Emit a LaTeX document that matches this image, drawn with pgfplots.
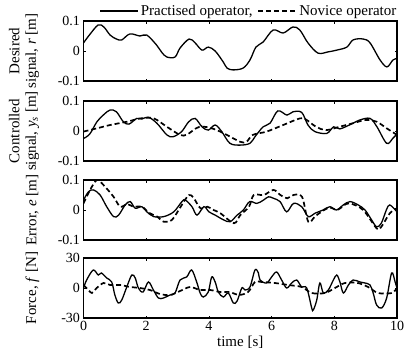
\documentclass[border=0pt]{standalone}
\usepackage{pgfplots}
\pgfplotsset{compat=1.18}
\usepackage{fontspec}
\setmainfont{Liberation Serif}

\newcommand{\lblfont}{\fontsize{15bp}{16.5bp}\selectfont}
\newcommand{\tickfont}{\fontsize{14bp}{16bp}\selectfont}

\pgfplotsset{
  panel/.style={
    scale only axis,
    width=313.5bp, height=60bp,
    anchor=north west,
    xmin=0, xmax=10,
    xtick={0,2,4,6,8,10},
    xticklabels=\empty,
    axis line style={line width=1.2pt},
    tick style={black, line width=0.6pt},
    major tick length=2.5bp,
    tick align=inside,
    ticklabel style={font=\tickfont},
    /pgf/number format/assume math mode=true,
    ylabel style={font=\lblfont, align=center, anchor=center},
    yticklabel style={xshift=0bp},
    clip=true,
  },
  prac/.style={black, line width=1.3pt, smooth, tension=0.55, mark=none},
  nov/.style={black, line width=1.7pt, dash pattern=on 5bp off 3bp, smooth, tension=0.55, mark=none},
}

\begin{document}
\begin{tikzpicture}
\useasboundingbox (0bp,0bp) rectangle (406bp,-352bp);

% desired signal r
\begin{axis}[panel, at={(83.5bp,-21bp)},
  ymin=-0.1, ymax=0.1, ytick={-0.1,0,0.1}, yticklabels={-0.1,0,0.1},
  ylabel={Desired\\signal, \textit{r} [m]},
  ylabel style={at={(axis description cs:-0.19,0.5)}},
  legend columns=2,
  legend style={at={(axis description cs:1.005,1.03)}, anchor=south east,
    draw=none, fill=none, inner sep=0pt, font=\lblfont,
    /tikz/every even column/.append style={column sep=3bp},
    cells={anchor=west}},
  legend image code/.code={\draw[#1, smooth=false] (0bp,0bp) -- (38bp,0bp);},
]
\addplot[prac] coordinates {
(0,0.027) (0.2,0.055) (0.47,0.087) (0.65,0.08) (0.85,0.053) (1.05,0.04)
(1.22,0.037) (1.48,0.057) (1.8,0.05) (2.02,0.053) (2.33,0.02) (2.5,-0.005)
(2.66,-0.02) (2.92,-0.02) (3.08,0.01) (3.37,0.04) (3.56,0.027) (3.78,0.003)
(3.98,0.013) (4.2,0) (4.46,-0.037) (4.58,-0.057) (4.77,-0.063) (5.09,-0.057)
(5.31,-0.03) (5.5,0.013) (5.73,0.03) (6.05,0.07) (6.37,0.06) (6.68,0.08)
(6.9,0.07) (7.16,0.027) (7.48,-0.007) (7.8,-0.003) (8.08,0.003) (8.4,0.013)
(8.6,0.037) (8.92,0.04) (9.14,0.027) (9.46,-0.03) (9.68,-0.053) (9.87,-0.03)
(10,-0.025)};
\addlegendentry{Practised operator,}
\addlegendimage{nov}
\addlegendentry{Novice operator}
\end{axis}

% controlled signal y_s
\begin{axis}[panel, at={(83.5bp,-101bp)},
  ymin=-0.1, ymax=0.1, ytick={-0.1,0,0.1}, yticklabels={-0.1,0,0.1},
  ylabel={Controlled\\signal, \textit{y}\textsubscript{\textit{s}} [m]},
  ylabel style={at={(axis description cs:-0.19,0.5)}},
]
\addplot[prac] coordinates {
(0,-0.025) (0.2,-0.01) (0.43,0.031) (0.65,0.055) (0.85,0.07) (1.05,0.064)
(1.27,0.031) (1.45,0.023) (1.7,0.042) (1.86,0.04) (2.07,0.046) (2.34,0.026)
(2.66,-0.013) (2.86,-0.019) (3.13,-0.002) (3.35,0.03) (3.56,0.042) (3.78,0.014)
(3.98,0.003) (4.2,0.02) (4.41,-0.002) (4.67,-0.041) (5,-0.047) (5.31,-0.041)
(5.47,-0.019) (5.73,0.014) (5.95,0.026) (6.2,0.067) (6.49,0.053) (6.68,0.064)
(6.96,0.062) (7.16,0.02) (7.38,-0.002) (7.76,-0.008) (7.98,0.014) (8.18,0.007)
(8.6,0.026) (8.82,0.037) (9.14,0.042) (9.36,0.014) (9.67,-0.041) (9.87,-0.024)
(10,-0.01)};
\addplot[nov] coordinates {
(0,-0.002) (0.43,0.009) (0.85,0.02) (1.39,0.031) (1.82,0.042) (2.24,0.042)
(2.66,0.014) (3.08,-0.013) (3.3,-0.012) (3.7,0.014) (4.15,0.007) (4.57,-0.013)
(5,-0.036) (5.2,-0.036) (5.4,-0.013) (5.84,-0.002) (6.37,0.02) (6.9,0.042)
(7.1,0.038) (7.42,0.014) (7.74,0.003) (8.16,0.014) (8.6,0.026) (9.02,0.037)
(9.35,0.031) (9.67,0.009) (10,-0.013)};
\end{axis}

% tracking error e
\begin{axis}[panel, at={(83.5bp,-180bp)},
  ymin=-0.1, ymax=0.1, ytick={-0.1,0,0.1}, yticklabels={-0.1,0,0.1},
  ylabel={Error, \textit{e} [m]},
  ylabel style={at={(axis description cs:-0.163,0.5)}},
]
\addplot[prac] coordinates {
(0,0.033) (0.16,0.061) (0.32,0.067) (0.53,0.05) (0.74,0.011) (0.96,-0.022)
(1.12,-0.017) (1.33,0.017) (1.49,0.028) (1.65,0.006) (1.86,0.011) (2.02,-0.006)
(2.24,-0.022) (2.56,-0.022) (2.88,-0.006) (3.14,0.028) (3.25,0.033) (3.46,0.011)
(3.62,-0.017) (3.84,0.011) (4.0,-0.006) (4.2,-0.017) (4.47,-0.033) (4.68,-0.039)
(4.9,-0.017) (5.1,0) (5.3,0.028) (5.53,0.022) (5.74,0.033) (5.9,0.044)
(6.06,0.039) (6.27,0.028) (6.48,-0.006) (6.7,0.022) (6.96,0.011) (7.17,-0.022)
(7.38,-0.011) (7.64,0) (7.86,0.011) (8.07,0) (8.29,0.017) (8.5,0.028)
(8.76,0.017) (8.98,0) (9.19,-0.033) (9.35,-0.056) (9.5,-0.044) (9.66,0)
(9.77,0.017) (10,-0.006)};
\addplot[nov] coordinates {
(0,0.022) (0.21,0.067) (0.43,0.1) (0.64,0.083) (0.96,0.044) (1.17,0.011)
(1.4,0.02) (1.6,0.01) (1.85,0.012) (2.1,-0.01) (2.35,-0.022) (2.56,-0.039)
(2.82,-0.033) (3.1,0.011) (3.36,0.05) (3.52,0.039) (3.73,0.006) (3.95,0.011)
(4.15,0) (4.37,-0.011) (4.8,-0.044) (5,-0.017) (5.28,0.011) (5.43,0.05)
(5.75,0.05) (6.06,0.067) (6.28,0.05) (6.5,0.039) (6.7,0.05) (6.97,0.044)
(7.17,-0.039) (7.38,-0.022) (7.6,-0.005) (7.85,0.008) (8.1,0) (8.3,0.015)
(8.5,0.022) (8.92,0) (9.35,-0.061) (9.5,-0.056) (9.77,-0.011) (10,0.006)};
\end{axis}

% operator force f
\begin{axis}[panel, at={(83.5bp,-258bp)},
  ymin=-30, ymax=30, ytick={-30,0,30}, yticklabels={-30,0,30},
  xticklabels={0,2,4,6,8,10},
  ylabel={Force, \textit{f} [N]},
  ylabel style={at={(axis description cs:-0.163,0.5)}},
  xlabel={time [s]},
  xlabel style={font=\lblfont, yshift=2bp},
]
\addplot[prac] coordinates {
(0,0) (0.1,8) (0.31,18) (0.47,13) (0.57,15) (0.74,10) (0.9,6) (1.0,-7)
(1.11,-15) (1.22,-12) (1.38,1) (1.54,13) (1.65,10) (1.75,0) (1.9,-4)
(2.07,6) (2.23,-2) (2.39,-10) (2.55,-10) (2.76,-7) (2.92,-5) (3.08,8)
(3.29,11) (3.45,18) (3.61,6) (3.72,-5) (3.82,-9) (3.98,-4) (4.09,11)
(4.2,6) (4.3,-4) (4.46,-9) (4.62,-5) (4.78,-15) (4.9,-13) (5.05,0)
(5.15,-2) (5.31,1) (5.47,18) (5.58,15) (5.63,8) (5.84,5) (6.0,11)
(6.16,16) (6.32,8) (6.48,0) (6.64,5) (6.8,8) (6.96,1) (7.12,0) (7.28,-20)
(7.33,-22) (7.44,-12) (7.54,5) (7.65,-5) (7.81,-2) (7.97,8) (8.08,13)
(8.18,6) (8.29,-5) (8.45,3) (8.6,8) (8.82,6) (8.98,5) (9.14,3) (9.24,-5)
(9.35,-17) (9.51,-20) (9.67,-10) (9.83,15) (9.94,6) (10,0)};
\addplot[nov] coordinates {
(0,3) (0.16,-2) (0.27,-5) (0.42,0) (0.64,5) (0.85,3) (1.17,3) (1.49,1)
(1.8,0) (2.12,-2) (2.44,-6) (2.76,-7) (3.08,-3) (3.4,1) (3.72,-2) (4.04,-2)
(4.36,-4) (4.68,-4) (4.94,-7) (5.25,-4) (5.47,6) (5.68,6) (6.1,5) (6.53,3)
(6.96,1) (7.28,-5) (7.7,-5) (8.02,0) (8.34,5) (8.76,5) (9.08,1) (9.4,-5)
(9.83,-5) (10,0)};
\end{axis}
\end{tikzpicture}
\end{document}
